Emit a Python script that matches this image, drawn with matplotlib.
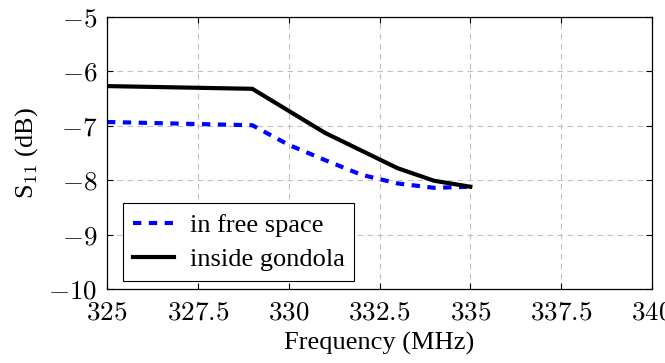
import matplotlib
matplotlib.use("Agg")
import matplotlib.pyplot as plt

freq_free = [325, 329, 330, 331, 332, 333, 334, 335]
s11_free = [-6.93, -6.99, -7.35, -7.63, -7.90, -8.06, -8.14, -8.12]
freq_gondola = [325, 329, 331, 333, 334, 335]
s11_gondola = [-6.27, -6.32, -7.13, -7.78, -8.01, -8.12]

xticks = [325, 327.5, 330, 332.5, 335, 337.5, 340]
yticks = [-10, -9, -8, -7, -6, -5]

plt.rcParams['font.family'] = ['Liberation Serif', 'DejaVu Serif']
plt.rcParams['mathtext.fontset'] = 'cm'

fig = plt.figure(figsize=(6.65, 3.63), dpi=100)
ax = fig.add_axes([107/665, 1-289/363, (652-107)/665, (289-17)/363])

ax.plot(freq_free, s11_free, color='blue', lw=3.0, ls=(0, (2.0, 1.8)), label='in free space')
ax.plot(freq_gondola, s11_gondola, color='black', lw=3.0, label='inside gondola')

ax.set_xlim(325, 340)
ax.set_ylim(-10, -5)
ax.set_xticks(xticks)
ax.set_xticklabels([f"${t:g}$" for t in xticks])
ax.set_yticks(yticks)
ax.set_yticklabels([f"${t:g}$" for t in yticks])
ax.tick_params(direction='in', top=True, right=True, labelsize=19.5, length=4, width=0.8)
ax.tick_params(axis='x', pad=8)
ax.tick_params(axis='y', pad=7)
ax.grid(True, color='#c0c0c0', ls=(0, (5, 4)), lw=0.8)
for s in ax.spines.values():
    s.set_linewidth(0.9)

ax.set_xlabel('Frequency (MHz)', fontsize=19, labelpad=5)
ax.set_ylabel('S$_{11}$ (dB)', fontsize=19, labelpad=6)

leg = ax.legend(loc='lower left', bbox_to_anchor=(0.029, 0.03), borderaxespad=0, fontsize=19,
                fancybox=False, edgecolor='black', framealpha=1, handlelength=1.55,
                borderpad=0.38, labelspacing=0.4, handletextpad=0.6)
leg.get_frame().set_linewidth(0.8)

fig.savefig('out.png', dpi=100)
